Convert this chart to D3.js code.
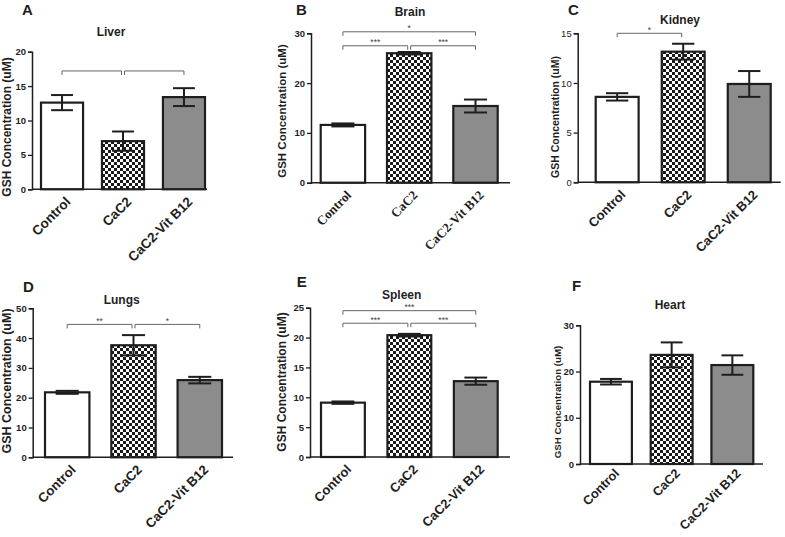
<!DOCTYPE html>
<html>
<head>
<meta charset="utf-8">
<script src="https://cdn.jsdelivr.net/npm/d3@7/dist/d3.min.js"></script>
<style>
  html, body { margin: 0; padding: 0; background: #fff; }
  svg { display: block; }
</style>
</head>
<body>
<svg id="chart" width="785" height="537"></svg>
<script>
// ---------------- DATA ----------------
const categories = ["Control", "CaC2", "CaC2-Vit B12"];
const panelLetters = ["A", "B", "C", "D", "E", "F"];
const organs = ["Liver", "Brain", "Kidney", "Lungs", "Spleen", "Heart"];
const yAxisTitle = "GSH Concentration (uM)";

const liverMean = [12.6, 7.0, 13.4];
const liverSem = [1.1, 1.4, 1.3];
const brainMean = [11.6, 26.0, 15.4];
const brainSem = [0.3, 0.25, 1.3];
const kidneyMean = [8.6, 13.15, 9.9];
const kidneySem = [0.37, 0.8, 1.3];
const lungsMean = [21.8, 37.6, 25.9];
const lungsSem = [0.5, 3.4, 1.1];
const spleenMean = [9.1, 20.4, 12.7];
const spleenSem = [0.2, 0.22, 0.6];
const heartMean = [17.8, 23.6, 21.4];
const heartSem = [0.6, 2.7, 2.1];

const yMaxes = [20, 30, 15, 50, 25, 30];
const yTickSteps = [5, 10, 5, 10, 5, 10];

// brackets: [fromIndex, toIndex, yValue, label]
const liverBrackets = [[0, 1, 17.2, ""], [1, 2, 17.2, ""]];
const brainBrackets = [[0, 2, 30.3, "*"], [0, 1, 27.5, "***"], [1, 2, 27.5, "***"]];
const kidneyBrackets = [[0, 1, 15.0, "*"]];
const lungsBrackets = [[0, 1, 44.6, "**"], [1, 2, 44.6, "*"]];
const spleenBrackets = [[0, 2, 24.5, "***"], [0, 1, 22.4, "***"], [1, 2, 22.4, "***"]];
const heartBrackets = [];

const means = [liverMean, brainMean, kidneyMean, lungsMean, spleenMean, heartMean];
const sems = [liverSem, brainSem, kidneySem, lungsSem, spleenSem, heartSem];
const brackets = [liverBrackets, brainBrackets, kidneyBrackets, lungsBrackets, spleenBrackets, heartBrackets];

// ---------------- LAYOUT ----------------
const sansX = "Arial, 'Liberation Sans', sans-serif";
const layout = [
  { x0: 32, x1: 207, yTop: 51.7, yBot: 189.3, bL: 41, bR: 205, pad: 0.31,
    title: [111, 36], letter: [22, 15], yl: [7, 127, 12], xFont: sansX, xSize: 13.5, xOff: [6, 10], tickBold: true },
  { x0: 311, x1: 510, yTop: 33.3, yBot: 182.7, bL: 320.7, bR: 497.7, pad: 0.33,
    title: [410, 16], letter: [296, 15], yl: [282, 111, 11.5], xFont: "'Liberation Serif', 'Times New Roman', serif", xSize: 13, xOff: [6, 10], tickBold: true },
  { x0: 577.7, x1: 780.7, yTop: 33.3, yBot: 182.3, bL: 595.7, bR: 770.7, pad: 0.35,
    title: [680, 24], letter: [568, 15], yl: [555, 117, 10.5], xFont: sansX, xSize: 13, xOff: [6, 10], tickBold: false },
  { x0: 32.7, x1: 233, yTop: 308.3, yBot: 457.3, bL: 45, bR: 222, pad: 0.33,
    title: [121.7, 304], letter: [23, 291.5], yl: [7, 381, 12.5], xFont: sansX, xSize: 13.2, xOff: [6, 10], tickBold: true },
  { x0: 310, x1: 510, yTop: 307.7, yBot: 457, bL: 321, bR: 497.7, pad: 0.34,
    title: [401.7, 299], letter: [296.7, 287], yl: [282, 382, 12], xFont: sansX, xSize: 13, xOff: [6, 10], tickBold: true },
  { x0: 580, x1: 763, yTop: 325.3, yBot: 464, bL: 590, bR: 753.3, pad: 0.31,
    title: [670, 309], letter: [572, 291], yl: [557, 402, 9.7], xFont: sansX, xSize: 12.8, xOff: [6, 7], tickBold: true }
];

const sans = "Arial, 'Liberation Sans', Helvetica, sans-serif";
const ink = "#1e1e1e";
const svg = d3.select("#chart");

// checker pattern
const defs = svg.append("defs");
const pat = defs.append("pattern").attr("id", "checker")
  .attr("patternUnits", "userSpaceOnUse").attr("width", 6).attr("height", 6);
pat.append("rect").attr("width", 6).attr("height", 6).attr("fill", "#fff");
pat.append("rect").attr("x", 0).attr("y", 0).attr("width", 3).attr("height", 3).attr("fill", "#1a1a1a");
pat.append("rect").attr("x", 3).attr("y", 3).attr("width", 3).attr("height", 3).attr("fill", "#1a1a1a");

const fills = ["#ffffff", "url(#checker)", "#8c8c8c"];

layout.forEach((L, p) => {
  const g = svg.append("g");
  const y = d3.scaleLinear().domain([0, yMaxes[p]]).range([L.yBot, L.yTop]);
  const x = d3.scaleBand().domain(categories).range([L.bL, L.bR]).paddingInner(L.pad).paddingOuter(0);
  const data = categories.map((c, i) => ({ c, m: means[p][i], s: sems[p][i], i }));

  // panel letter
  g.append("text").attr("x", L.letter[0]).attr("y", L.letter[1])
    .attr("font-family", sans).attr("font-weight", "bold").attr("font-size", 15)
    .attr("fill", ink).text(panelLetters[p]);

  // title
  g.append("text").attr("x", L.title[0]).attr("y", L.title[1]).attr("text-anchor", "middle")
    .attr("font-family", sans).attr("font-weight", "bold").attr("font-size", 12)
    .attr("fill", ink).text(organs[p]);

  // y axis
  const ticks = d3.range(0, yMaxes[p] + 0.001, yTickSteps[p]);
  const yAxis = d3.axisLeft(y).tickValues(ticks).tickSize(4).tickPadding(2).tickFormat(d3.format("d"));
  const ya = g.append("g").attr("transform", `translate(${L.x0},0)`).call(yAxis);
  ya.select(".domain").attr("stroke", ink).attr("stroke-width", 1.5);
  ya.selectAll(".tick line").attr("stroke", ink).attr("stroke-width", 1.3);
  ya.selectAll(".tick text").attr("font-family", sans).attr("font-size", 9.5)
    .attr("font-weight", L.tickBold ? "bold" : "normal").attr("fill", ink);

  // y title
  g.append("text")
    .attr("transform", `translate(${L.yl[0]},${L.yl[1]}) rotate(-90)`)
    .attr("text-anchor", "middle").attr("dominant-baseline", "central")
    .attr("font-family", sans).attr("font-weight", "bold").attr("font-size", L.yl[2])
    .attr("fill", ink).text(yAxisTitle);

  // bars
  g.selectAll("rect.bar").data(data).enter().append("rect")
    .attr("class", "bar")
    .attr("x", d => x(d.c)).attr("width", x.bandwidth())
    .attr("y", d => y(d.m)).attr("height", d => y(0) - y(d.m))
    .attr("fill", d => fills[d.i]).attr("stroke", ink).attr("stroke-width", 2.2);

  // x axis line
  g.append("line").attr("x1", L.x0).attr("x2", L.x1).attr("y1", L.yBot).attr("y2", L.yBot)
    .attr("stroke", ink).attr("stroke-width", 1.5);

  // error bars
  const capW = x.bandwidth() * 0.52;
  data.forEach(d => {
    const cx = x(d.c) + x.bandwidth() / 2;
    const eg = g.append("g").attr("stroke", ink).attr("stroke-width", 2);
    eg.append("line").attr("x1", cx).attr("x2", cx).attr("y1", y(d.m - d.s)).attr("y2", y(d.m + d.s));
    eg.append("line").attr("x1", cx - capW / 2).attr("x2", cx + capW / 2).attr("y1", y(d.m + d.s)).attr("y2", y(d.m + d.s));
    eg.append("line").attr("x1", cx - capW / 2).attr("x2", cx + capW / 2).attr("y1", y(d.m - d.s)).attr("y2", y(d.m - d.s));
  });

  // x labels
  data.forEach(d => {
    const cx = x(d.c) + x.bandwidth() / 2;
    g.append("text")
      .attr("transform", `translate(${cx + L.xOff[0]},${L.yBot + L.xOff[1]}) rotate(-45)`)
      .attr("text-anchor", "end").attr("dy", "0.35em")
      .attr("font-family", L.xFont).attr("font-weight", "bold").attr("font-size", L.xSize)
      .attr("fill", ink).text(d.c);
  });

  // significance brackets
  brackets[p].forEach(b => {
    const xa = x(categories[b[0]]) + x.bandwidth() / 2 + (b[0] === 1 ? 1.5 : 0);
    const xb = x(categories[b[1]]) + x.bandwidth() / 2 - (b[1] === 1 ? 1.5 : 0);
    const yy = y(b[2]);
    g.append("path")
      .attr("d", `M${xa},${yy + 4}V${yy}H${xb}V${yy + 4}`)
      .attr("fill", "none").attr("stroke", "#666").attr("stroke-width", 1);
    if (b[3]) {
      g.append("text").attr("x", (xa + xb) / 2).attr("y", yy - 0.5).attr("text-anchor", "middle")
        .attr("font-family", sans).attr("font-size", 8.5).attr("fill", "#444").text(b[3]);
    }
  });
});
</script>
</body>
</html>
